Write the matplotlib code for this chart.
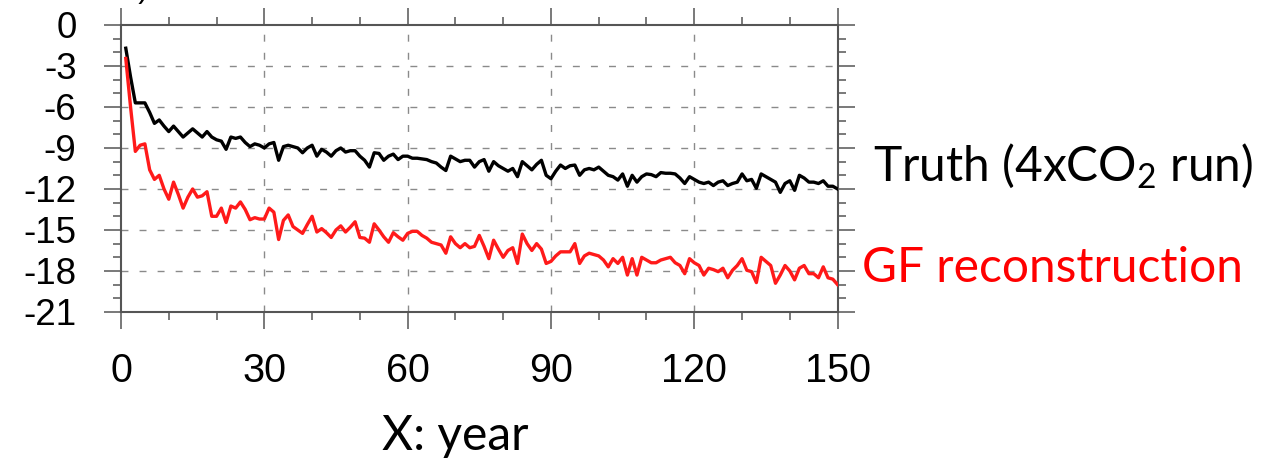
import matplotlib
matplotlib.use("Agg")
import matplotlib.pyplot as plt
from matplotlib.ticker import MultipleLocator
import numpy as np

plt.rcParams['axes.unicode_minus'] = False
plt.rcParams['mathtext.fontset'] = 'custom'
plt.rcParams['mathtext.rm'] = 'Lato'
plt.rcParams['mathtext.default'] = 'regular'

# yearly values
years = np.arange(1, 151)
truth = [
    -1.7, -3.8, -5.7, -5.7, -5.7, -6.4, -7.2, -6.95, -7.4, -7.8,
    -7.4, -7.8, -8.2, -7.9, -7.6, -7.9, -8.2, -7.8, -8.2, -8.4,
    -8.5, -9.1, -8.2, -8.3, -8.2, -8.6, -8.9, -8.7, -8.8, -9.0,
    -8.7, -8.6, -9.9, -8.9, -8.8, -8.9, -9.0, -9.35, -9.0, -8.8,
    -9.6, -9.1, -9.3, -9.6, -9.2, -9.0, -9.3, -9.2, -9.2, -9.6,
    -9.9, -10.4, -9.35, -9.4, -9.9, -9.6, -9.45, -9.85, -9.6, -9.6,
    -9.75, -9.75, -9.8, -9.85, -10.0, -10.1, -10.4, -10.65, -9.6, -9.8,
    -10.0, -9.9, -9.9, -10.4, -10.0, -9.85, -10.7, -10.0, -10.3, -10.5,
    -10.7, -10.5, -11.1, -10.0, -10.3, -10.6, -10.2, -9.9, -11.0, -11.25,
    -10.7, -10.25, -10.5, -10.3, -10.25, -11.0, -10.6, -10.5, -10.6, -10.4,
    -10.7, -11.0, -11.1, -11.35, -10.9, -11.8, -11.0, -11.5, -11.1, -10.9,
    -10.95, -11.1, -10.8, -10.85, -10.85, -10.9, -11.2, -11.6, -11.1, -11.3,
    -11.5, -11.6, -11.5, -11.75, -11.5, -11.4, -11.75, -11.6, -11.5, -10.9,
    -11.4, -11.3, -11.95, -10.9, -11.1, -11.3, -11.5, -12.25, -11.6, -11.4,
    -12.1, -11.0, -11.2, -11.5, -11.5, -11.6, -11.4, -11.8, -11.8, -12.0,
]
gf = [
    -2.45, -6.0, -9.25, -8.8, -8.7, -10.6, -11.3, -11.0, -12.0, -12.75,
    -11.5, -12.4, -13.4, -12.6, -12.0, -12.6, -12.5, -12.2, -14.0, -14.0,
    -13.4, -14.45, -13.25, -13.4, -12.95, -13.5, -14.25, -14.1, -14.2, -14.2,
    -13.4, -13.7, -15.7, -14.3, -13.9, -14.75, -15.0, -15.25, -14.6, -14.0,
    -15.15, -14.9, -15.2, -15.55, -15.0, -14.7, -15.15, -14.8, -14.4, -15.55,
    -15.6, -15.9, -14.55, -15.0, -15.5, -15.9, -15.2, -15.5, -15.75, -15.25,
    -15.1, -15.1, -15.4, -15.6, -15.9, -16.0, -16.1, -16.7, -15.5, -16.0,
    -16.3, -16.0, -16.3, -16.2, -15.4, -16.2, -17.1, -15.75, -16.4, -17.0,
    -16.5, -16.3, -17.45, -15.3, -16.0, -16.5, -16.0, -16.4, -17.45, -17.3,
    -16.9, -16.6, -16.6, -16.6, -16.0, -17.45, -16.9, -16.7, -16.8, -16.9,
    -17.2, -17.7, -17.1, -17.45, -17.0, -18.3, -17.1, -18.3, -17.0, -17.2,
    -17.4, -17.4, -17.2, -17.1, -17.0, -17.4, -17.6, -18.2, -17.1, -17.4,
    -17.6, -18.3, -17.8, -17.9, -18.05, -17.8, -18.5, -17.95, -17.6, -17.1,
    -17.95, -18.05, -18.85, -17.0, -17.3, -17.6, -18.9, -18.3, -17.6, -18.0,
    -18.65, -17.8, -17.6, -18.2, -18.2, -18.5, -17.7, -18.5, -18.6, -19.0,
]
xticks = [0, 30, 60, 90, 120, 150]
yticks = [0, -3, -6, -9, -12, -15, -18, -21]

fig = plt.figure(figsize=(12.71, 4.67), dpi=100)
ax = fig.add_axes([0.0952, 0.332, 0.5638, 0.6145])

gridkw = dict(color='#8a8a8a', lw=1.0, dashes=(5, 8))
for x in xticks[1:-1]:
    ax.axvline(x, **gridkw, zorder=1)
for y in yticks[1:-1]:
    ax.axhline(y, **gridkw, zorder=1)

ax.plot(years, truth, color='black', lw=2.4, zorder=3)
ax.plot(years, gf, color='#ff1a1a', lw=2.4, zorder=3)

ax.set_xlim(0, 150)
ax.set_ylim(-21, 0)
ax.set_xticks(xticks)
ax.set_xticklabels([str(t) for t in xticks], family='Liberation Sans', fontsize=28.5)
ax.set_yticks(yticks)
ax.set_yticklabels([str(t) for t in yticks], family='Liberation Sans', fontsize=26.5)
ax.xaxis.set_minor_locator(MultipleLocator(10))
ax.yaxis.set_minor_locator(MultipleLocator(1))

spine_col = '#555555'
for s in ax.spines.values():
    s.set_color(spine_col)
    s.set_linewidth(1.5)
ax.tick_params(which='both', direction='out', top=True, right=True,
               color=spine_col, width=1.1)
ax.tick_params(which='major', length=12)
ax.tick_params(axis='x', which='major', pad=17)
ax.tick_params(axis='y', which='major', pad=20)
ax.tick_params(which='minor', length=5.5)

# cut-off panel letter at the top
fig.text(0.097, 1 - 4 / 467, 'c)', fontsize=22, va='bottom', ha='left',
         family='Liberation Sans')

fig.text(873 / 1271, 1 - 166 / 467, r'Truth (4xCO$_2$ run)', fontsize=34.5,
         family='Lato', color='black', va='center', ha='left')
fig.text(862 / 1271, 1 - 268 / 467, 'GF reconstruction', fontsize=34.5,
         family='Lato', color='red', va='center', ha='left')
fig.text(455 / 1271, 1 - 436 / 467, 'X: year', fontsize=34.5,
         family='Lato', color='black', va='center', ha='center')

fig.savefig('out.png', dpi=100)
